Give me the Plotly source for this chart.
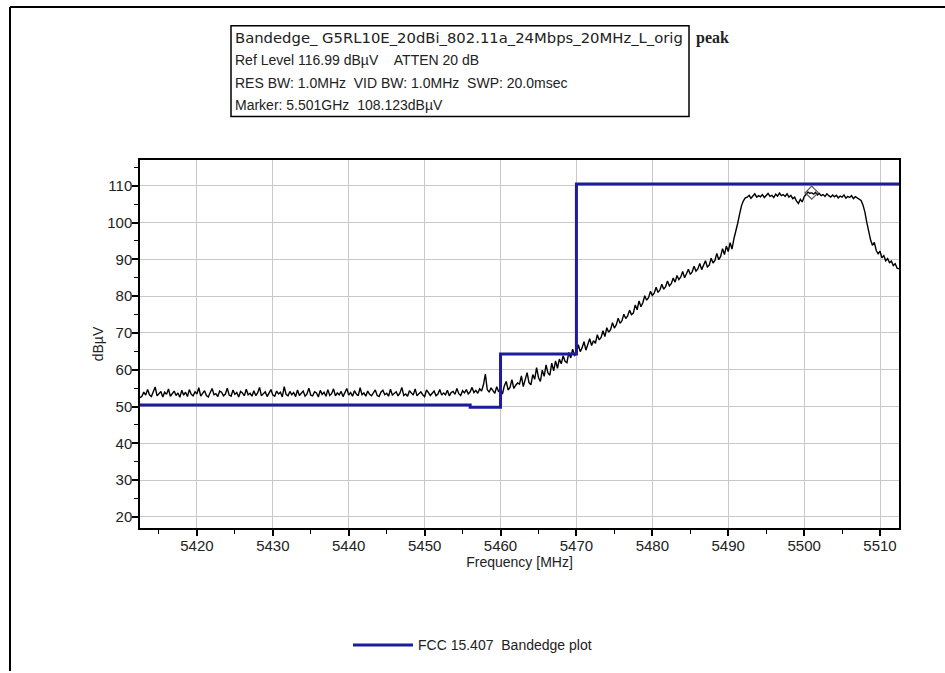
import plotly.graph_objects as go

# ---------------- data ----------------
freq_start = 5412.5      # MHz, first sweep point
freq_step = 0.25         # MHz between sweep points

trace_dbuv = [
    52.4, 52.8, 53.9, 53.1, 54.6, 53.2, 52.7, 53.8, 55.3, 52.9, 53.6, 54.1, 52.6, 53.9, 53.3, 54.8, 52.8, 53.5, 54.2, 53.0,
    53.7, 52.5, 54.4, 53.1, 53.9, 52.7, 54.6, 53.3, 52.9, 54.0, 53.4, 55.1, 52.8, 53.6, 54.3, 53.0, 52.6, 53.8, 54.9, 53.2,
    53.5, 52.7, 54.2, 53.9, 52.9, 53.4, 55.0, 53.1, 52.8, 54.5, 53.3, 53.8, 52.6, 54.1, 53.7, 52.9, 54.7, 53.2, 53.6, 52.8,
    54.3, 53.0, 53.7, 55.2, 52.9, 53.5, 54.0, 52.7, 53.8, 54.6, 53.1, 52.8, 54.2, 53.4, 53.9, 52.6, 55.4, 53.3, 52.9, 54.1,
    53.2, 53.8, 52.7, 54.5, 53.0, 53.6, 54.2, 52.8, 53.4, 55.0, 53.1, 52.9, 54.0, 53.7, 52.6, 54.4, 53.3, 53.9, 52.8, 54.6,
    53.0, 53.5, 54.8, 52.9, 53.7, 53.2, 54.1, 52.7, 53.6, 54.9, 53.1, 53.8, 52.8, 54.3, 53.4, 52.9, 55.1, 53.2, 53.7, 52.8,
    54.2, 53.3, 52.9, 53.8, 54.5, 53.0, 52.7, 53.9, 54.4, 53.2, 53.6, 52.8, 54.7, 53.1, 53.5, 54.0, 52.9, 53.7, 55.2, 53.0,
    53.4, 52.8, 54.3, 53.6, 53.1, 54.8, 52.9, 53.5, 54.0, 53.2, 52.7, 54.5, 53.8, 53.0, 53.6, 54.2, 52.9, 53.4, 54.6, 53.1,
    53.7, 53.2, 54.4, 52.9, 53.8, 54.1, 53.3, 54.9, 53.5, 53.0, 54.3, 53.7, 54.6, 53.4, 54.0, 55.2, 53.8, 54.4, 53.6, 54.8,
    54.2, 55.9, 58.8, 54.6, 53.9, 55.1, 54.3, 53.6, 55.4, 54.0, 54.7, 53.4, 55.6, 56.8, 54.5, 55.2, 57.3, 54.9, 55.8, 56.4,
    56.1, 58.3, 55.4, 57.0, 59.2, 56.5, 55.9, 58.7, 57.4, 60.6, 57.9, 56.8, 59.9, 58.2, 61.3, 59.1, 58.5, 61.8, 59.7, 62.4,
    60.4, 62.9, 61.6, 63.8, 62.3, 61.9, 64.7, 63.2, 65.6, 63.9, 64.4, 66.8, 64.9, 66.0, 67.6, 65.3, 66.9, 68.4, 66.6, 67.9,
    67.2, 69.5, 68.1, 68.8, 70.6, 69.0, 71.4, 70.2, 70.9, 72.8, 71.3, 72.2, 74.0, 72.6, 73.3, 75.1, 73.9, 74.6, 76.2, 75.0,
    75.4, 77.6, 76.3, 78.7, 77.1, 78.2, 80.1, 78.9, 79.6, 81.3, 80.2, 80.8, 82.4, 81.0, 81.7, 83.2, 81.9, 82.6, 84.1, 82.8,
    83.4, 84.9, 83.8, 85.6, 84.5, 85.2, 86.7, 85.0, 86.1, 87.3, 85.9, 86.6, 88.1, 86.8, 87.4, 88.9, 87.2, 88.3, 89.6, 87.9,
    88.4, 90.3, 89.0, 89.7, 91.6, 89.9, 90.8, 92.9, 91.3, 93.6, 92.1, 94.5, 92.8, 95.6, 97.5, 99.8, 102.3, 104.6, 105.9, 106.7,
    106.9, 107.4, 106.6, 107.2, 107.8, 106.9, 107.3, 107.0, 107.6, 106.8, 107.5, 107.9, 107.1, 107.4, 106.8, 107.7, 107.2, 108.0, 107.3, 107.6,
    107.1, 107.8, 106.9, 107.4, 106.5, 106.9, 105.8, 105.2, 106.3, 105.6, 107.0, 107.6, 108.3, 107.9, 108.1, 107.7, 108.2, 107.5, 107.9, 107.3,
    107.6, 107.1, 107.8, 107.3, 106.9, 107.5, 107.0, 107.4, 106.7, 107.2, 106.9, 107.5, 106.6, 107.1, 106.8, 107.3, 106.5, 107.0, 106.7, 106.3,
    106.0, 104.8, 102.9, 100.1, 97.6, 95.3, 93.8, 94.6, 92.4, 91.5, 92.2, 90.4, 91.0, 89.6, 90.2, 89.1, 89.5, 88.3, 88.8, 87.6,
    87.4,
]
trace_freq = [freq_start + freq_step * i for i in range(len(trace_dbuv))]

limit_freq = [5412.5, 5456.0, 5460.0, 5470.0, 5512.5]
limit_dbuv = [50.4, 49.8, 64.3, 110.5, 110.5]
limit_name = "FCC 15.407\u00a0 Bandedge plot"

marker_freq = [5501.0]
marker_dbuv = [108.123]

x_range = [5412.5, 5512.5]
y_range = [16.99, 116.99]
x_ticks = [5420, 5430, 5440, 5450, 5460, 5470, 5480, 5490, 5500, 5510]
y_ticks = [20, 30, 40, 50, 60, 70, 80, 90, 100, 110]

header_lines = [
    "Bandedge_ G5RL10E_20dBi_802.11a_24Mbps_20MHz_L_orig",
    "Ref Level 116.99 dB\u00b5V\u00a0\u00a0\u00a0\u00a0ATTEN 20 dB",
    "RES BW: 1.0MHz\u00a0 VID BW: 1.0MHz\u00a0 SWP: 20.0msec",
    "Marker: 5.501GHz\u00a0 108.123dB\u00b5V",
]
header_tag = "peak"

# ---------------- layout geometry (pixels) ----------------
W, H = 945, 673
L, R, T, B = 140, 899, 160, 533

def px(x):
    return (x - L) / (R - L)

def py(y):
    return (B - y) / (B - T)

FONT = "Liberation Sans, Arial, sans-serif"
TXT = "#222222"

fig = go.Figure()
fig.add_trace(go.Scatter(
    x=trace_freq, y=trace_dbuv, mode="lines",
    line=dict(color="black", width=1.4), showlegend=False, hoverinfo="skip"))
fig.add_trace(go.Scatter(
    x=limit_freq, y=limit_dbuv, mode="lines", name=limit_name,
    line=dict(color="#1c1c9c", width=3, shape="hv"), showlegend=True))
fig.add_trace(go.Scatter(
    x=marker_freq, y=marker_dbuv, mode="markers", showlegend=False,
    marker=dict(symbol="diamond-open", size=10, color="#555555", line=dict(width=1.2))))

axis_common = dict(
    showline=True, linecolor="black", linewidth=1.5, mirror=True,
    showgrid=True, gridcolor="#c8c8c8", gridwidth=1,
    ticks="outside", ticklen=6, tickwidth=1.5, tickcolor="black",
    tickfont=dict(family=FONT, size=15, color=TXT),
    ticklabelstandoff=-3,
    zeroline=False,
    minor=dict(ticks="outside", ticklen=4, tickwidth=1.2, tickcolor="black", dtick=5, showgrid=False),
)

fig.update_xaxes(range=x_range, tickvals=x_ticks, **axis_common,
                 title=dict(text="Frequency [MHz]", font=dict(family=FONT, size=14, color=TXT), standoff=0))
fig.update_yaxes(range=y_range, tickvals=y_ticks, **axis_common,
                 title=dict(text="dB\u00b5V", font=dict(family=FONT, size=14, color=TXT), standoff=0))

shapes = [
    # outer frame (top + left)
    dict(type="line", xref="paper", yref="paper", x0=px(10), x1=px(W + 5), y0=py(5), y1=py(5),
         line=dict(color="black", width=2)),
    dict(type="line", xref="paper", yref="paper", x0=px(10), x1=px(10), y0=py(5), y1=py(H + 5),
         line=dict(color="black", width=2)),
    # header box
    dict(type="rect", xref="paper", yref="paper", x0=px(231), x1=px(689), y0=py(116), y1=py(24),
         line=dict(color="black", width=1.5), fillcolor="rgba(0,0,0,0)"),
]

annotations = []
line_y = [36, 59, 82, 104]
line_fonts = [("DejaVu Sans, Liberation Sans, sans-serif", 14.8), (FONT, 14), (FONT, 14), (FONT, 14)]
for txt, yy, (fam, sz) in zip(header_lines, line_y, line_fonts):
    annotations.append(dict(text=txt, xref="paper", yref="paper", x=px(233), y=py(yy),
                            xanchor="left", yanchor="middle", showarrow=False,
                            font=dict(family=fam, size=sz, color=TXT)))
annotations.append(dict(text="<b>" + header_tag + "</b>", xref="paper", yref="paper", x=px(694), y=py(36),
                        xanchor="left", yanchor="middle", showarrow=False,
                        font=dict(family="Liberation Serif, DejaVu Serif, serif", size=16, color=TXT)))

fig.update_layout(
    width=W, height=H,
    margin=dict(l=L, r=W - R, t=T, b=H - B),
    paper_bgcolor="white", plot_bgcolor="white",
    shapes=shapes, annotations=annotations,
    showlegend=True,
    legend=dict(x=px(348), y=py(652), xanchor="left", yanchor="middle", itemwidth=60,
                font=dict(family=FONT, size=14, color=TXT), bgcolor="rgba(0,0,0,0)"),
)

fig.write_html("out.html", config={"displayModeBar": False},
               post_script="document.body.style.margin='0';")
